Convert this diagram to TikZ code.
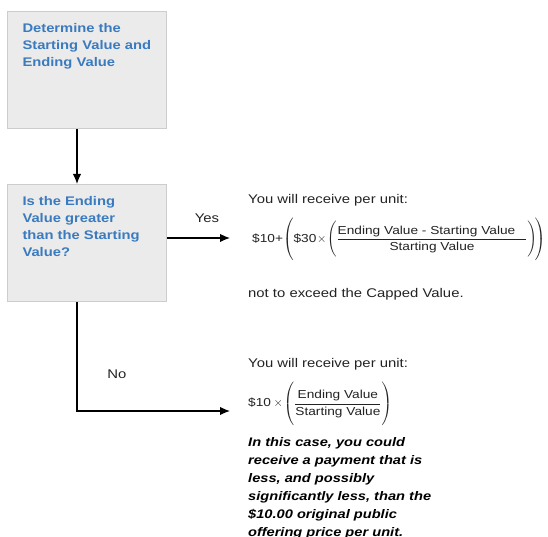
\documentclass[tikz,border=0pt]{standalone}
\usepackage{amsmath}
\usepackage{fontspec}
\setmainfont{Liberation Sans}[FakeStretch=1.18]
\usetikzlibrary{arrows.meta}

\definecolor{titleblue}{RGB}{58,122,190}
\definecolor{boxgray}{RGB}{235,235,235}
\definecolor{boxline}{RGB}{205,205,205}
\definecolor{bodygray}{RGB}{35,35,35}

\tikzset{
    flowbox/.style={draw=boxline, fill=boxgray, line width=1pt, anchor=north west,
        inner xsep=15pt, inner ysep=12pt, minimum width=159pt, minimum height=117pt,
        font=\fontsize{12.5}{17}\selectfont\bfseries, text=titleblue},
    bodytext/.style={anchor=base west, inner sep=0pt,
        font=\fontsize{12.6}{18}\selectfont, text=bodygray},
    mathtext/.style={anchor=west, inner sep=0pt,
        font=\fontsize{11.6}{13}\selectfont, text=bodygray},
    flow/.style={-{Latex[length=10pt,width=8.5pt]}, line width=1.3pt},
}

\begin{document}
\begin{tikzpicture}[x=1pt, y=1pt]
    \def\boxtext#1{\parbox[t][93pt][t]{129pt}{\raggedright #1}}

    \useasboundingbox (0,0) rectangle (548,537);
    \clip (0,0) rectangle (548,537);

    \node[flowbox] (start) at (7,526) {\boxtext{Determine the\\Starting Value and\\Ending Value}};
    \node[flowbox] (check) at (7,353) {\boxtext{Is the Ending\\Value greater\\than the Starting\\Value?}};

    \coordinate (trunk) at (77,0);
    \coordinate (yestip) at (230,299);
    \coordinate (notip) at (230,126);

    \draw[flow] (start.south -| trunk) -- (check.north -| trunk);
    \draw[flow] (check.east |- yestip) -- (yestip);
    \draw[flow] (check.south -| trunk) |- (notip);

    \node[bodytext, anchor=base] (yes) at (207,314) {Yes};
    \node[bodytext, anchor=base] (no) at (117,158) {No};

    % yes branch
    \node[bodytext] (yesgets) at (248,333) {You will receive per unit:};
    \node[mathtext] (yesformula) at (252,297) {$\text{\$10+}\!\left(\rule[-20pt]{0pt}{40pt}\text{\$30}\!\times\!\left(\rule[-15pt]{0pt}{31pt}\dfrac{\text{Ending Value - Starting Value}\hspace{11pt}}{\text{Starting Value}}\right)\!\right)$};
    \node[bodytext] (cap) at (248,239) {not to exceed the Capped Value.};

    % no branch
    \node[bodytext] (nogets) at (248,169) {You will receive per unit:};
    \node[mathtext] (noformula) at (248,133) {$\text{\$10}\times\!\left(\rule[-18pt]{0pt}{37pt}\dfrac{\text{Ending Value}}{\text{Starting Value}}\right)$};
    \node[bodytext, font=\fontsize{12.4}{18}\selectfont\bfseries\itshape, text=black] (warning) at (248,90)
        {\parbox[t]{220pt}{In this case, you could\\receive a payment that is\\less, and possibly\\significantly less, than the\\\$10.00 original public\\offering price per unit.}};
\end{tikzpicture}
\end{document}
